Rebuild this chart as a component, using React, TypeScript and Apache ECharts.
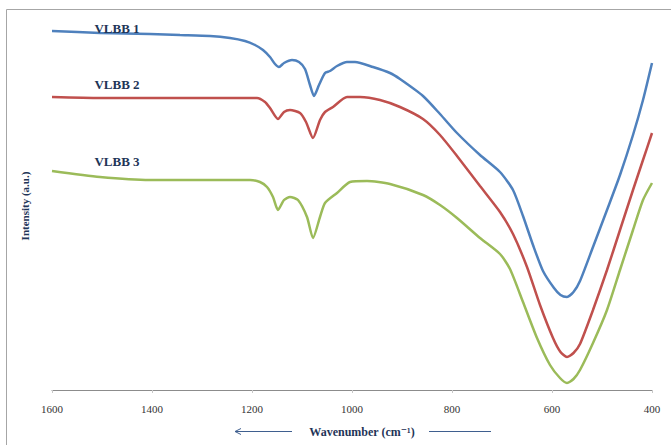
import React, { useEffect, useRef } from "react";
import * as echarts from "echarts";

const wavenumbers1 = [1600, 1504, 1404, 1344, 1284, 1244, 1214, 1194, 1178, 1164, 1154, 1146, 1136, 1120, 1106, 1094, 1084, 1076, 1066, 1054, 1044, 1030, 1010, 994, 958, 924, 904, 858, 824, 790, 744, 704, 678, 658, 638, 618, 596, 583, 570, 557, 544, 518, 490, 464, 438, 418, 400];
const vlbb1 = [359, 357, 356, 355, 354, 352, 349, 345, 340, 333, 326, 323, 327, 330, 328, 321, 305, 294, 305, 317, 319, 324, 328, 328, 323, 317, 311, 294, 276, 257, 235, 218, 200, 174, 145, 119, 102, 95, 93, 98, 109, 143, 180, 215, 255, 290, 327];

const wavenumbers2 = [1600, 1504, 1404, 1304, 1190, 1174, 1164, 1148, 1136, 1124, 1104, 1092, 1078, 1064, 1054, 1038, 1010, 984, 944, 904, 858, 824, 790, 744, 704, 678, 650, 624, 598, 583, 570, 557, 544, 518, 490, 464, 438, 418, 400];
const vlbb2 = [293, 292, 292, 292, 292, 288, 282, 271, 278, 280, 277, 268, 252, 270, 278, 283, 293, 293, 290, 283, 271, 255, 234, 204, 178, 156, 123, 85, 52, 38, 33, 37, 46, 80, 120, 160, 200, 230, 257];

const wavenumbers3 = [1600, 1504, 1404, 1304, 1204, 1184, 1170, 1158, 1148, 1136, 1124, 1108, 1090, 1078, 1064, 1054, 1030, 1004, 970, 924, 858, 824, 790, 744, 704, 684, 658, 630, 604, 584, 570, 557, 544, 518, 490, 464, 438, 418, 400];
const vlbb3 = [219, 213, 210, 210, 210, 208, 203, 193, 180, 190, 193, 190, 173, 152, 173, 187, 197, 208, 209, 206, 195, 185, 172, 152, 136, 121, 88, 52, 25, 12, 7, 11, 20, 47, 80, 120, 160, 190, 207];

const seriesNames = ["VLBB 1", "VLBB 2", "VLBB 3"];
const seriesColors = ["#4F81BD", "#C0504D", "#9BBB59"];
const xTicks = [400, 600, 800, 1000, 1200, 1400, 1600];

const zip = (xs: number[], ys: number[]) => xs.map((x, i) => [x, ys[i]]);

export default function App() {
  const ref = useRef<HTMLDivElement>(null);
  useEffect(() => {
    if (!ref.current) return;
    const chart = echarts.init(ref.current, null, { renderer: "svg" });
    const serif = "'Liberation Serif', 'DejaVu Serif', serif";
    const navy = "#1F3558";
    const datasets = [zip(wavenumbers1, vlbb1), zip(wavenumbers2, vlbb2), zip(wavenumbers3, vlbb3)];
    chart.setOption({
      animation: false,
      backgroundColor: "#ffffff",
      grid: { left: 52, right: 19, top: 10, bottom: 55 },
      xAxis: {
        type: "value",
        inverse: true,
        min: xTicks[0],
        max: xTicks[xTicks.length - 1],
        interval: 200,
        splitLine: { show: false },
        axisLine: { show: true, lineStyle: { color: "#8c8c8c", width: 1 } },
        axisTick: { show: true, length: 3, lineStyle: { color: "#c8c8c8" } },
        axisLabel: {
          color: "#333333",
          fontFamily: serif,
          fontSize: 11,
          margin: 13,
          formatter: (v: number) => String(v),
        },
      },
      yAxis: {
        type: "value",
        min: 0,
        max: 380,
        show: false,
      },
      series: datasets.map((d, i) => ({
        name: seriesNames[i],
        type: "line",
        data: d,
        smooth: 0.22,
        showSymbol: false,
        symbol: "none",
        lineStyle: { color: seriesColors[i], width: 2.5 },
        z: 2,
      })),
      graphic: [
        {
          type: "rect",
          shape: { x: 6.5, y: 9.5, width: 700, height: 500 },
          style: { fill: "none", stroke: "#a6a6a6", lineWidth: 1 },
          silent: true,
          z: 0,
        },
        {
          type: "text",
          x: 117,
          y: 28,
          z: 10,
          style: { text: seriesNames[0], fill: navy, font: `bold 13px ${serif}`, textAlign: "center", textVerticalAlign: "middle" },
        },
        {
          type: "text",
          x: 117,
          y: 84,
          z: 10,
          style: { text: seriesNames[1], fill: navy, font: `bold 13px ${serif}`, textAlign: "center", textVerticalAlign: "middle" },
        },
        {
          type: "text",
          x: 117,
          y: 161,
          z: 10,
          style: { text: seriesNames[2], fill: navy, font: `bold 13px ${serif}`, textAlign: "center", textVerticalAlign: "middle" },
        },
        {
          type: "text",
          x: 362,
          y: 432,
          style: { text: "Wavenumber (cm⁻¹)", fill: navy, font: `bold 12px ${serif}`, textAlign: "center", textVerticalAlign: "middle" },
        },
        {
          type: "line",
          shape: { x1: 235, y1: 431.5, x2: 292, y2: 431.5 },
          style: { stroke: "#3F5F8F", lineWidth: 1 },
        },
        {
          type: "polyline",
          shape: { points: [[241, 428.5], [235, 431.5], [241, 434.5]] },
          style: { stroke: "#3F5F8F", lineWidth: 1, fill: "none" },
        },
        {
          type: "line",
          shape: { x1: 429, y1: 431.5, x2: 491, y2: 431.5 },
          style: { stroke: "#3F5F8F", lineWidth: 1 },
        },
        {
          type: "text",
          x: 25,
          y: 206,
          rotation: Math.PI / 2,
          style: { text: "Intensity (a.u.)", fill: navy, font: `bold 11px ${serif}`, textAlign: "center", textVerticalAlign: "middle" },
        },
      ],
    });
    return () => chart.dispose();
  }, []);
  return <div ref={ref} style={{ position: "absolute", left: 0, top: 0, width: 671, height: 445 }} />;
}
